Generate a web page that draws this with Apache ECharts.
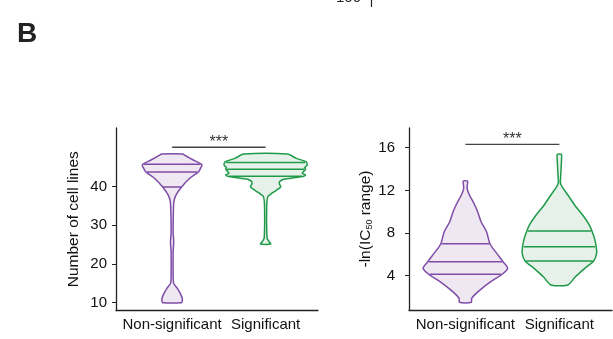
<!DOCTYPE html>
<html>
<head>
<meta charset="utf-8">
<script src="https://cdn.jsdelivr.net/npm/echarts@6/dist/echarts.min.js"></script>
<style>
html,body{margin:0;padding:0;background:#fff;}
#main{width:613px;height:339px;}
</style>
</head>
<body>
<div id="main"></div>
<script>
// ---------- DATA ----------
const categories = ['Non-significant', 'Significant'];

// Panel 1: Number of cell lines — violin outline (value, relative density)
const cellNonSigY = [48.35, 48.0, 46.9, 45.6, 44.8, 43.8, 42.1, 39.9, 37.8, 36.1, 33.0, 28.0, 25.7, 23.0, 17.0, 15.0, 13.7, 12.4, 11.1, 10.3, 9.95];
const cellNonSigD = [0.25, 0.31, 0.49, 0.71, 0.68, 0.63, 0.42, 0.23, 0.095, 0.043, 0.029, 0.024, 0.038, 0.024, 0.024, 0.036, 0.12, 0.19, 0.24, 0.24, 0.22];
const cellSigY = [48.35, 47.24, 46.4, 45.56, 44.87, 44.45, 43.83, 43.4, 42.97, 42.55, 42.3, 41.85, 41.2, 40.56, 39.9, 39.35, 38.6, 37.9, 37.4, 36.1, 33.5, 30.0, 26.6, 25.7, 25.1];
const cellSigD = [0.52, 0.73, 0.96, 0.99, 0.93, 0.95, 0.90, 0.87, 0.95, 0.88, 0.71, 0.43, 0.33, 0.33, 0.36, 0.30, 0.20, 0.11, 0.055, 0.031, 0.024, 0.024, 0.036, 0.083, 0.12];
const cellNonSigQuart = [39.85, 43.7, 45.7];
const cellSigQuart = [42.6, 44.45, 46.2];

// Panel 2: -ln(IC50 range) — violin outline (value, relative density)
const icNonSigY = [12.88, 12.6, 12.19, 11.56, 10.79, 10.0, 9.06, 8.12, 7.0, 6.25, 5.31, 4.69, 4.13, 3.44, 2.5, 1.88, 1.5];
const icNonSigD = [0.052, 0.048, 0.040, 0.095, 0.20, 0.29, 0.37, 0.50, 0.58, 0.71, 0.89, 1.0, 0.87, 0.60, 0.30, 0.15, 0.14];
const icSigY = [15.38, 15.0, 14.0, 13.2, 12.7, 12.3, 11.57, 10.63, 9.69, 8.75, 8.19, 7.5, 6.72, 6.1, 5.38, 4.69, 3.9, 3.13];
const icSigD = [0.048, 0.052, 0.040, 0.029, 0.024, 0.071, 0.20, 0.36, 0.55, 0.71, 0.77, 0.83, 0.87, 0.88, 0.81, 0.60, 0.38, 0.20];
const icNonSigQuart = [4.13, 5.31, 7.0];
const icSigQuart = [5.38, 6.72, 8.19];

// Significance annotations
const sigLevels = [50.13, 16.32];
const sigLabels = ['***', '***'];

// Axis ticks
const cellTicks = [10, 20, 30, 40];
const icTicks = [4, 8, 12, 16];

// ---------- STYLE ----------
const FONT = '"Liberation Sans", Arial, sans-serif';
const PURPLE = '#7e4ca6', PURPLE_FILL = '#efe8f3';
const GREEN = '#1f9a48', GREEN_FILL = '#e6f2e9';
const HALF = 0.45; // half violin width (x-units) at density 1

function interp(ys, ds, v) {
  for (let i = 0; i < ys.length - 1; i++) {
    const a = ys[i], b = ys[i + 1];
    if ((v <= a && v >= b) || (v >= a && v <= b)) {
      const t = (v - a) / (b - a || 1);
      return ds[i] + t * (ds[i + 1] - ds[i]);
    }
  }
  return 0;
}

function violinSeries(idx, pos, ys, ds, quart, stroke, fill) {
  return {
    type: 'custom', xAxisIndex: idx, yAxisIndex: idx, silent: true,
    data: [[pos]],
    renderItem: function (params, api) {
      const xc = api.value(0);
      const right = [], left = [];
      for (let i = 0; i < ys.length; i++) {
        right.push(api.coord([xc + ds[i] * HALF, ys[i]]));
        left.push(api.coord([xc - ds[i] * HALF, ys[i]]));
      }
      const pts = right.concat(left.reverse());
      const children = [{
        type: 'polygon',
        shape: { points: pts, smooth: 0.25 },
        style: { fill: fill, stroke: stroke, lineWidth: 1.5 }
      }];
      quart.forEach(function (q) {
        const d = interp(ys, ds, q) * 0.97;
        const p1 = api.coord([xc - d * HALF, q]);
        const p2 = api.coord([xc + d * HALF, q]);
        children.push({
          type: 'line',
          shape: { x1: p1[0], y1: p1[1], x2: p2[0], y2: p2[1] },
          style: { stroke: stroke, lineWidth: 1.5 }
        });
      });
      return { type: 'group', children: children };
    }
  };
}

function sigSeries(idx) {
  return {
    type: 'custom', xAxisIndex: idx, yAxisIndex: idx, silent: true,
    data: [[1, 2, sigLevels[idx]]],
    renderItem: function (params, api) {
      const a = api.coord([api.value(0), api.value(2)]);
      const b = api.coord([api.value(1), api.value(2)]);
      return {
        type: 'group', children: [
          { type: 'line', shape: { x1: a[0], y1: a[1], x2: b[0], y2: b[1] }, style: { stroke: '#444', lineWidth: 1.3 } },
          { type: 'text', style: { text: sigLabels[idx], x: (a[0] + b[0]) / 2, y: a[1] - 5, align: 'center', verticalAlign: 'middle', font: '16px ' + FONT, fill: '#333' } }
        ]
      };
    }
  };
}

function xAxis(idx) {
  return {
    type: 'value', gridIndex: idx, min: 0.4, max: 2.56,
    splitLine: { show: false },
    axisLine: { show: true, lineStyle: { color: '#222', width: 1.3 } },
    axisTick: { show: false },
    axisLabel: {
      customValues: [1, 2], margin: 7,
      formatter: function (v) { return categories[Math.round(v) - 1]; },
      fontFamily: FONT, fontSize: 15, color: '#111'
    }
  };
}

function yAxis(idx, min, max, ticks, name, gap, margin) {
  return {
    type: 'value', gridIndex: idx, min: min, max: max,
    splitLine: { show: false },
    axisLine: { show: true, lineStyle: { color: '#222', width: 1.3 } },
    axisTick: { show: true, customValues: ticks, length: 4, lineStyle: { color: '#222' } },
    axisLabel: { customValues: ticks, margin: margin, fontFamily: FONT, fontSize: 15, color: '#111' },
    name: name, nameLocation: 'middle', nameGap: gap, nameRotate: 90,
    nameTextStyle: {
      fontFamily: FONT, fontSize: 15.5, color: '#111',
      rich: {
        n: { fontFamily: FONT, fontSize: 15.5, color: '#111' },
        s: { fontFamily: FONT, fontSize: 9, color: '#111', padding: [9, 0, 0, 0] }
      }
    }
  };
}

const chart = echarts.init(document.getElementById('main'), null, { renderer: 'canvas' });
chart.setOption({
  animation: false,
  backgroundColor: '#fff',
  grid: [
    { left: 116, top: 128, width: 202, height: 182.5 },
    { left: 409, top: 128, width: 203, height: 182 }
  ],
  xAxis: [xAxis(0), xAxis(1)],
  yAxis: [
    yAxis(0, 7.93, 55.1, cellTicks, 'Number of cell lines', 34, 9),
    yAxis(1, 0.78, 17.85, icTicks, '{n|-ln(IC}{s|50}{n| range)}', 30, 14)
  ],
  graphic: [
    { type: 'text', left: 17, top: 20, style: { text: 'B', font: 'bold 28px ' + FONT, fill: '#222' } },
    { type: 'text', x: 336, y: 5, style: { text: '100', font: '15px ' + FONT, fill: '#222', verticalAlign: 'bottom' } },
    { type: 'line', shape: { x1: 371.5, y1: 0, x2: 371.5, y2: 7 }, style: { stroke: '#222', lineWidth: 1.2 } }
  ],
  series: [
    violinSeries(0, 1, cellNonSigY, cellNonSigD, cellNonSigQuart, PURPLE, PURPLE_FILL),
    violinSeries(0, 2, cellSigY, cellSigD, cellSigQuart, GREEN, GREEN_FILL),
    violinSeries(1, 1, icNonSigY, icNonSigD, icNonSigQuart, PURPLE, PURPLE_FILL),
    violinSeries(1, 2, icSigY, icSigD, icSigQuart, GREEN, GREEN_FILL),
    sigSeries(0),
    sigSeries(1)
  ]
});
</script>
</body>
</html>
